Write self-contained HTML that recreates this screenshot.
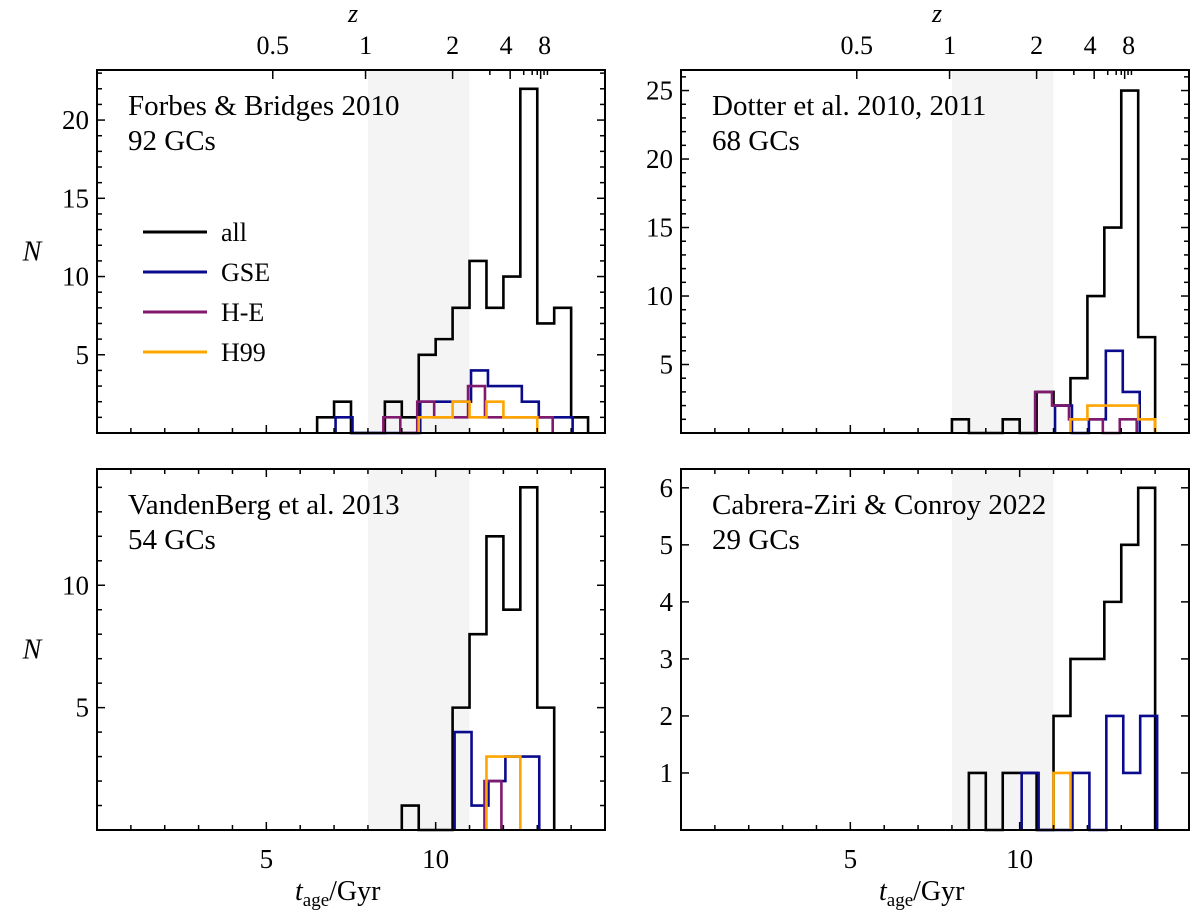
<!DOCTYPE html>
<html><head><meta charset="utf-8"><style>
html,body{margin:0;padding:0;background:#fff;}
svg{display:block;}
svg text{font-family:"Liberation Serif","Noto Serif CJK SC","DejaVu Serif",serif;}
</style></head>
<body>
<svg id="fig" width="1200" height="919" viewBox="0 0 1200 919" xmlns="http://www.w3.org/2000/svg"></svg>
<script>
// ---- data (bin start ages in Gyr, bin width 0.5) ----
const binWidth = 0.5;
// Panel 1: Forbes & Bridges 2010
const fbAllBins = [6.5,7,8.5,9,9.5,10,10.5,11,11.5,12,12.5,13,13.5,14];
const fbAllCounts = [1,2,2,1,5,6,8,11,8,10,22,7,8,1];
const fbGseBins = [7,9.5,10,10.5,11,11.5,12,12.5,13,13.5];
const fbGseCounts = [1,2,2,2,4,3,3,2,1,1];
const fbHeBins = [8.5,9.5,10,10.5,11,11.5,12,12.5,13];
const fbHeCounts = [1,2,1,1,3,1,1,1,1];
const fbH99Bins = [9.5,10,10.5,11,11.5,12,12.5];
const fbH99Counts = [1,1,2,1,2,1,1];
// Panel 2: Dotter et al.
const doAllBins = [8,9.5,10.5,11,11.5,12,12.5,13,13.5];
const doAllCounts = [1,1,3,2,4,10,15,25,7];
const doGseBins = [11,12,12.5,13];
const doGseCounts = [2,1,6,3];
const doHeBins = [10.5,11,11.5,12,13];
const doHeCounts = [3,2,1,1,1];
const doH99Bins = [11.5,12,12.5,13,13.5];
const doH99Counts = [1,2,2,2,1];
// Panel 3: VandenBerg et al. 2013
const vbAllBins = [9,10.5,11,11.5,12,12.5,13];
const vbAllCounts = [1,5,8,12,9,14,5];
const vbGseBins = [10.5,11,11.5,12,12.5];
const vbGseCounts = [4,1,2,3,3];
const vbHeBins = [11.5];
const vbHeCounts = [2];
const vbH99Bins = [11.5,12];
const vbH99Counts = [3,3];
// Panel 4: Cabrera-Ziri & Conroy 2022
const ccAllBins = [8.5,9.5,10,11,11.5,12,12.5,13,13.5];
const ccAllCounts = [1,1,1,2,3,3,4,5,6];
const ccGseBins = [10,11.5,12.5,13,13.5];
const ccGseCounts = [1,1,2,1,2];
const ccH99Bins = [11];
const ccH99Counts = [1];
// axes ticks
const xMajorTicks = [5,10];
const xMajorLabels = ["5","10"];
const zLabels = ["0.5","1","2","4","8"];
const zLabelAges = [5.19,7.93,10.5,12.2,13.1];
const zMinorAges = [11.6,12.6,12.85,13.0,13.2,13.3];

const C = {all:"#000000", gse:"#0a0a8c", he:"#801a6e", h99:"#ffa500"};
const svg = document.getElementById('fig');
const NS = "http://www.w3.org/2000/svg";
function mk(tag, attrs, parent){
  const e = document.createElementNS(NS, tag);
  for (const k in attrs) e.setAttribute(k, attrs[k]);
  (parent||svg).appendChild(e);
  return e;
}

function panel(p){
  const g = mk('g', {});
  
  
  const X = a => p.x0 + (a - 0) / 15 * (p.x1 - p.x0);
  const Y = v => p.y1 - v / p.ymax * (p.y1 - p.y0);
  const sh = mk('rect', {x:X(8), y:p.y0, width:X(11)-X(8), height:p.y1-p.y0, fill:"#f4f4f4"}, g);
  
  
  p.series.forEach(s => {
    if (!s.bins.length) return;
    const first = Math.min(...s.bins), last = Math.max(...s.bins);
    const n = Math.round((last - first)/binWidth) + 1;
    const cnt = new Array(n).fill(0);
    s.bins.forEach((b,i) => { cnt[Math.round((b-first)/binWidth)] = s.counts[i]; });
    let d = `M${X(first)+s.off},${Y(0)}`;
    for (let i=0;i<n;i++){
      const a0 = first + i*binWidth, a1 = a0 + binWidth;
      d += ` V${Y(cnt[i])} H${X(a1)+s.off}`;
    }
    d += ` V${Y(0)}`;
    const path = mk('path', {d, fill:"none", stroke:s.color, 'stroke-width':2.6, 'stroke-linejoin':'miter'}, g);
    
    
  });
  const fr = mk('rect', {x:p.x0, y:p.y0, width:p.x1-p.x0, height:p.y1-p.y0, fill:"none", stroke:"#000", 'stroke-width':2}, g);
  
  
  for (let a=1;a<15;a++){
    const maj = a%5===0; const L = maj?8:5;
    mk('line',{x1:X(a),x2:X(a),y1:p.y1,y2:p.y1-L,stroke:"#000",'stroke-width':1.5},g);
    if (!p.top) mk('line',{x1:X(a),x2:X(a),y1:p.y0,y2:p.y0+L,stroke:"#000",'stroke-width':1.5},g);
  }
  if (p.bottom){
    xMajorTicks.forEach((t,i)=>{
      const tx = mk('text',{x:X(t),y:p.y1+38,'font-size':27,'text-anchor':'middle'},g);
      tx.textContent = xMajorLabels[i];
      
      
    });
    const xl = mk('text',{x:(p.x0+p.x1)/2-56,y:p.y1+70,'font-size':28},g);
    xl.innerHTML = '<tspan font-style="italic">t</tspan><tspan font-size="19" dy="6">age</tspan><tspan dy="-6">/Gyr</tspan>';
    
    
  }
  if (p.top){
    zLabelAges.forEach((a,i)=>{
      mk('line',{x1:X(a),x2:X(a),y1:p.y0,y2:p.y0+9,stroke:"#000",'stroke-width':1.5},g);
      const tx = mk('text',{x:X(a)+(i===3?-4:(i===4?4:0)),y:p.y0-16,'font-size':26,'text-anchor':'middle'},g);
      tx.textContent = zLabels[i];
      
      
    });
    zMinorAges.forEach(a=>mk('line',{x1:X(a),x2:X(a),y1:p.y0,y2:p.y0+5,stroke:"#000",'stroke-width':1.5},g));
    const zl = mk('text',{x:(p.x0+p.x1)/2+2,y:p.y0-48,'font-size':26,'font-style':'italic','text-anchor':'middle'},g);
    zl.textContent = 'z';
    
    
  }
  for (let v=p.ystep; v<p.ymax; v+=p.ystep){
    const vv = Math.round(v*100)/100;
    const maj = Math.abs(vv/p.ymaj - Math.round(vv/p.ymaj))<1e-6; const L = maj?8:5;
    mk('line',{x1:p.x0,x2:p.x0+L,y1:Y(vv),y2:Y(vv),stroke:"#000",'stroke-width':1.5},g);
    mk('line',{x1:p.x1,x2:p.x1-L,y1:Y(vv),y2:Y(vv),stroke:"#000",'stroke-width':1.5},g);
    if (maj){
      const tx = mk('text',{x:p.x0-8,y:Y(vv)+9,'font-size':27,'text-anchor':'end'},g);
      tx.textContent = String(vv);
      
      
    }
  }
  if (p.ylabel){
    const yl = mk('text',{x:32,y:(p.y0+p.y1)/2+9,'font-size':28,'font-style':'italic','text-anchor':'middle'},g);
    yl.textContent = 'N';
    
    
  }
  const t1 = mk('text',{x:p.x0+31,y:p.y0+45,'font-size':29},g);
  t1.textContent = p.title;
  
  
  const t2 = mk('text',{x:p.x0+31,y:p.y0+80,'font-size':29},g);
  t2.textContent = p.count;
  
  
}

panel({name:'panel-forbes-bridges', x0:97,x1:605,y0:70,y1:433,ymax:23.2,ystep:1,ymaj:5,top:true,bottom:false,ylabel:true,
  title:'Forbes & Bridges 2010',count:'92 GCs',series:[
  {label:'all',bins:fbAllBins,counts:fbAllCounts,color:C.all,off:0},
  {label:'gse',bins:fbGseBins,counts:fbGseCounts,color:C.gse,off:1.5},
  {label:'he',bins:fbHeBins,counts:fbHeCounts,color:C.he,off:-1.5},
  {label:'h99',bins:fbH99Bins,counts:fbH99Counts,color:C.h99,off:0}]});
panel({name:'panel-dotter', x0:681,x1:1189,y0:70,y1:433,ymax:26.5,ystep:1,ymaj:5,top:true,bottom:false,ylabel:false,
  title:'Dotter et al. 2010, 2011',count:'68 GCs',series:[
  {label:'all',bins:doAllBins,counts:doAllCounts,color:C.all,off:0},
  {label:'gse',bins:doGseBins,counts:doGseCounts,color:C.gse,off:1.5},
  {label:'he',bins:doHeBins,counts:doHeCounts,color:C.he,off:-1.5},
  {label:'h99',bins:doH99Bins,counts:doH99Counts,color:C.h99,off:0}]});
panel({name:'panel-vandenberg', x0:97,x1:605,y0:469,y1:830,ymax:14.75,ystep:1,ymaj:5,top:false,bottom:true,ylabel:true,
  title:'VandenBerg et al. 2013',count:'54 GCs',series:[
  {label:'all',bins:vbAllBins,counts:vbAllCounts,color:C.all,off:0},
  {label:'gse',bins:vbGseBins,counts:vbGseCounts,color:C.gse,off:2},
  {label:'he',bins:vbHeBins,counts:vbHeCounts,color:C.he,off:-2},
  {label:'h99',bins:vbH99Bins,counts:vbH99Counts,color:C.h99,off:0}]});
panel({name:'panel-cabrera-ziri', x0:681,x1:1189,y0:469,y1:830,ymax:6.33,ystep:1,ymaj:1,top:false,bottom:true,ylabel:false,
  title:'Cabrera-Ziri & Conroy 2022',count:'29 GCs',series:[
  {label:'all',bins:ccAllBins,counts:ccAllCounts,color:C.all,off:0},
  {label:'gse',bins:ccGseBins,counts:ccGseCounts,color:C.gse,off:2},
  {label:'h99',bins:ccH99Bins,counts:ccH99Counts,color:C.h99,off:0}]});

const legendLabels = ['all','GSE','H-E','H99'];
const legendColors = [C.all,C.gse,C.he,C.h99];
const lg = mk('g',{});


legendLabels.forEach((lab,i)=>{
  const y = 232 + i*40;
  const ln = mk('line',{x1:143,x2:207,y1:y,y2:y,stroke:legendColors[i],'stroke-width':3},lg);
  
  
  const tx = mk('text',{x:221,y:y+9,'font-size':26},lg);
  tx.textContent = lab;
  
  
});
</script>
</body></html>
